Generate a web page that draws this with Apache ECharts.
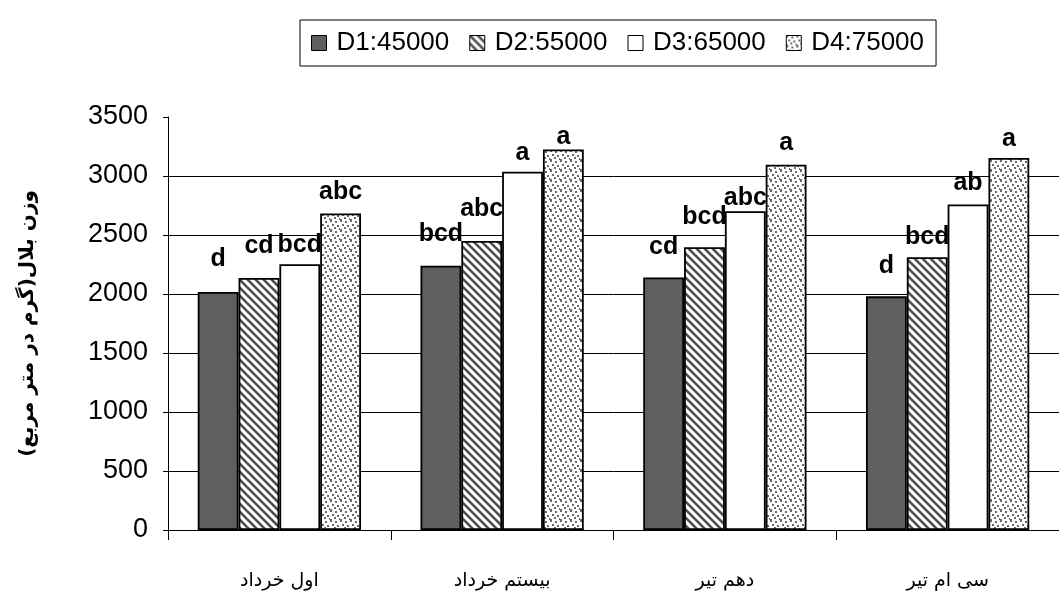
<!DOCTYPE html>
<html>
<head>
<meta charset="utf-8">
<script src="https://cdn.jsdelivr.net/npm/echarts@6/dist/echarts.min.js"></script>
<style>
html,body{margin:0;padding:0;background:#fff;}
#chart{width:1059px;height:612px;}
</style>
</head>
<body>
<div id="chart"></div>
<script>
// ---- data ----
const categories = ['اول خرداد', 'بیستم خرداد', 'دهم تیر', 'سی ام تیر'];
const seriesNames = ['D1:45000', 'D2:55000', 'D3:65000', 'D4:75000'];
const d1 = [2017, 2239, 2140, 1980];
const d2 = [2135, 2449, 2396, 2312];
const d3 = [2253, 3037, 2702, 2759];
const d4 = [2683, 3225, 3096, 3152];
const letters1 = ['d', 'bcd', 'cd', 'd'];
const letters2 = ['cd', 'abc', 'bcd', 'bcd'];
const letters3 = ['bcd', 'a', 'abc', 'ab'];
const letters4 = ['abc', 'a', 'a', 'a'];
const yAxisName = 'وزن بلال(گرم در متر مربع)';

// ---- styles ----
const labelDist = [
  [20, 19, 18, 18],
  [19, 19, 18, 8],
  [7, 6, 1, 9],
  [9, 0, 9, 6]
];

function stripePattern() {
  const c = document.createElement('canvas');
  c.width = 8; c.height = 8;
  const g = c.getContext('2d');
  g.fillStyle = '#ffffff'; g.fillRect(0, 0, 8, 8);
  g.strokeStyle = '#4d4d4d'; g.lineWidth = 2.6;
  [-8, 0, 8].forEach(o => { g.beginPath(); g.moveTo(o - 1, -1); g.lineTo(o + 9, 9); g.stroke(); });
  return c;
}
function dotPattern() {
  const c = document.createElement('canvas');
  c.width = 10; c.height = 10;
  const g = c.getContext('2d');
  g.fillStyle = '#ffffff'; g.fillRect(0, 0, 10, 10);
  g.fillStyle = '#6a6a6a';
  [[0, 0], [5, 1], [2, 4], [7, 5], [4, 7], [9, 8], [0, 9]].forEach(p => g.fillRect(p[0], p[1], 2, 2));
  return c;
}

const fills = [
  '#5f5f5f',
  { image: stripePattern(), repeat: 'repeat' },
  '#ffffff',
  { image: dotPattern(), repeat: 'repeat' }
];
const values = [d1, d2, d3, d4];
const letters = [letters1, letters2, letters3, letters4];

const chart = echarts.init(document.getElementById('chart'), null, { renderer: 'canvas' });
const series = values.map((vals, s) => ({
  name: seriesNames[s],
  type: 'bar',
  barGap: '0%',
  barCategoryGap: '26.7%',
  itemStyle: { color: fills[s], borderColor: '#000', borderWidth: 1.8 },
  label: {
    show: true, position: 'top', color: '#000',
    fontFamily: 'Liberation Sans, Arial', fontWeight: 'bold', fontSize: 25,
    formatter: p => letters[s][p.dataIndex]
  },
  data: vals.map((v, i) => ({ value: v, label: { distance: labelDist[s][i] } })),
  animation: false
}));

chart.setOption({
  backgroundColor: '#fff',
  animation: false,
  legend: {
    left: 300, top: 20,
    icon: 'rect',
    itemWidth: 15, itemHeight: 15, itemGap: 20,
    padding: [10, 12, 10, 11],
    borderColor: '#000', borderWidth: 1,
    itemStyle: { borderColor: '#000', borderWidth: 1 },
    textStyle: { fontFamily: 'Liberation Sans, Arial', fontSize: 26, color: '#000', padding: [0, 0, 0, 5] },
    data: seriesNames
  },
  grid: { left: 168, right: -10, top: 117, bottom: 82, containLabel: false },
  xAxis: {
    type: 'category', data: categories,
    axisLine: { lineStyle: { color: '#000', width: 1 } },
    axisTick: { show: true, length: 10, lineStyle: { color: '#000' } },
    axisLabel: { margin: 42, fontFamily: 'DejaVu Sans', fontSize: 19, color: '#000' }
  },
  yAxis: {
    type: 'value', min: 0, max: 3500, interval: 500,
    name: yAxisName, nameLocation: 'middle', nameRotate: 90, nameGap: 130,
    nameTextStyle: { fontFamily: 'DejaVu Sans', fontSize: 20, color: '#000', fontWeight: 'bold' },
    axisLine: { show: true, lineStyle: { color: '#000', width: 1 } },
    axisTick: { show: true, length: 5, lineStyle: { color: '#000' } },
    axisLabel: { margin: 20, fontFamily: 'Liberation Sans, Arial', fontSize: 27, color: '#000', formatter: v => String(v) },
    splitLine: { show: true, showMaxLine: false, lineStyle: { color: '#000', width: 1 } }
  },
  series: series
});
</script>
</body>
</html>
